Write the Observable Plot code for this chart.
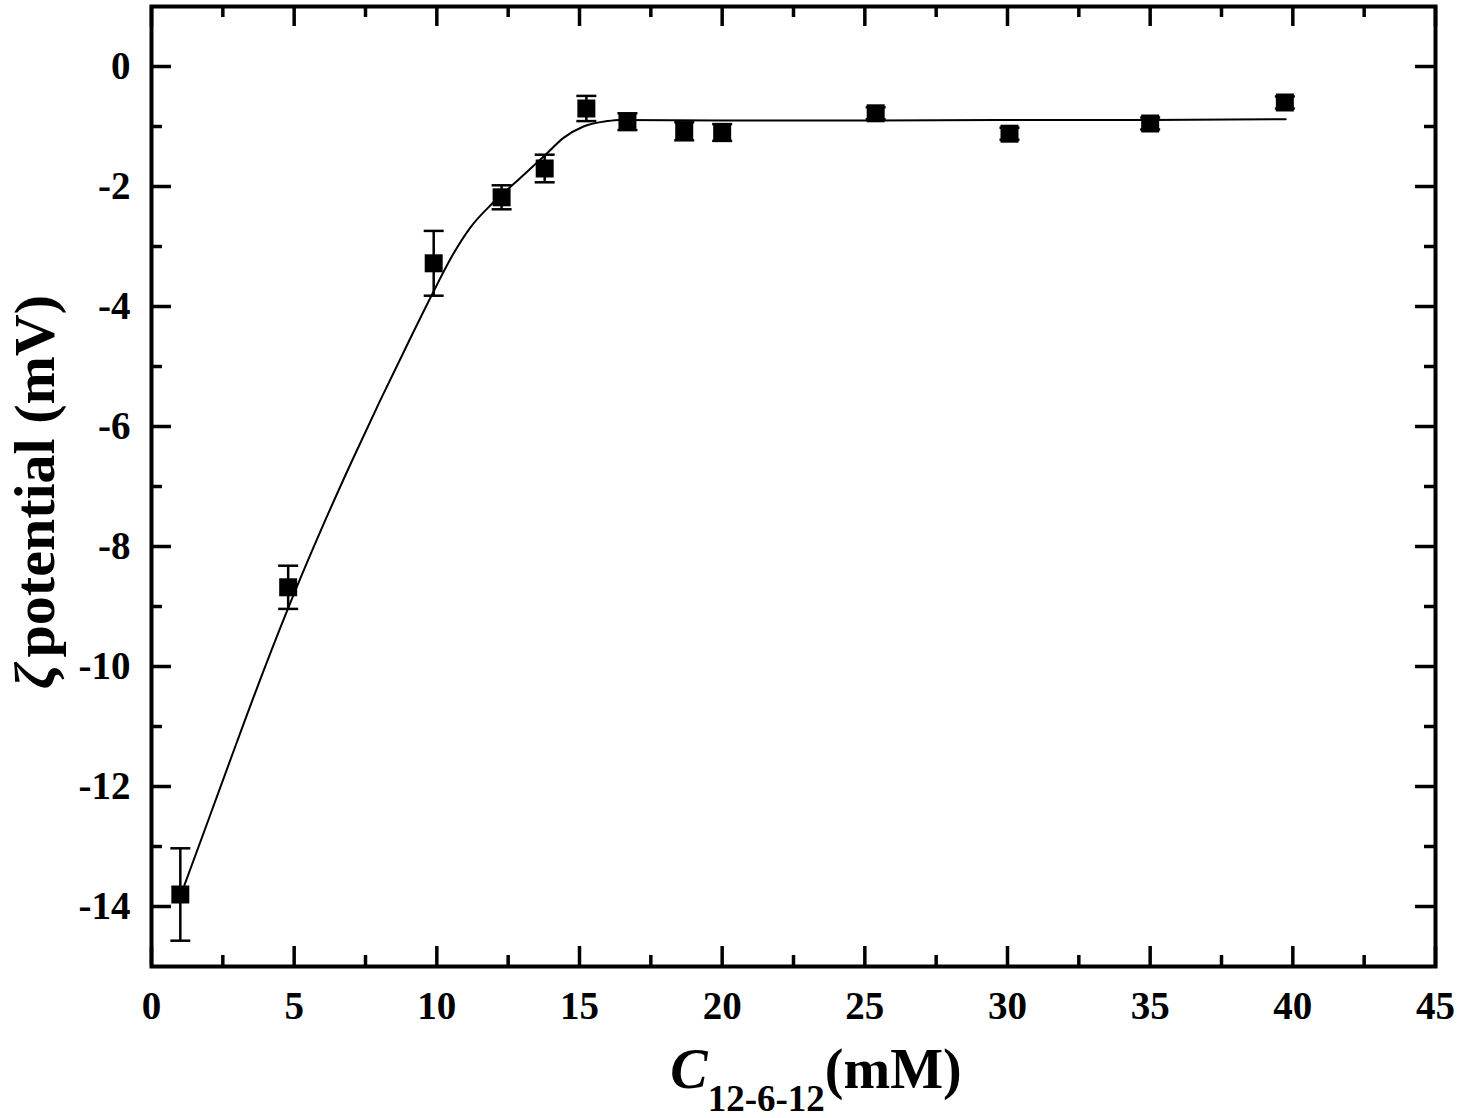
<!DOCTYPE html>
<html><head><meta charset="utf-8">
<script src="https://cdn.jsdelivr.net/npm/d3@7"></script>
<script src="https://cdn.jsdelivr.net/npm/@observablehq/plot@0.6"></script>
<style>body{margin:0;background:#fff} svg{display:block}</style>
</head><body><div id="chart"></div>
<script>
// Measured data
const concentration = [1.01, 4.79, 9.89, 12.27, 13.78, 15.24, 16.68, 18.67, 20.0, 25.38, 30.07, 35.0, 39.72];
const zeta          = [-13.8, -8.68, -3.28, -2.18, -1.70, -0.70, -0.92, -1.08, -1.10, -0.78, -1.12, -0.95, -0.60];
const zetaErr       = [0.77, 0.36, 0.54, 0.20, 0.23, 0.21, 0.14, 0.15, 0.14, 0.10, 0.10, 0.10, 0.10];
// Fitted curve
const fitX = [1.15, 2.0, 3.0, 4.0, 5.0, 6.0, 7.0, 8.0, 9.0, 9.81, 10.58, 11.18, 11.95, 12.83, 13.81, 14.44, 15.14, 15.97, 16.4, 20, 25, 30, 35, 39.75];
const fitY = [-13.65, -12.55, -11.25, -9.98, -8.78, -7.66, -6.60, -5.58, -4.60, -3.82, -3.12, -2.68, -2.28, -1.90, -1.47, -1.19, -1.00, -0.91, -0.89, -0.90, -0.90, -0.89, -0.89, -0.88];
// Ticks
const xTicks = [0, 5, 10, 15, 20, 25, 30, 35, 40, 45];
const xMinorTicks = [2.5, 7.5, 12.5, 17.5, 22.5, 27.5, 32.5, 37.5, 42.5];
const yTicks = [0, -2, -4, -6, -8, -10, -12, -14];
const yMinorTicks = [-1, -3, -5, -7, -9, -11, -13];

const points = concentration.map((c, i) => ({x: c, y: zeta[i], lo: zeta[i] - zetaErr[i], hi: zeta[i] + zetaErr[i]}));
const fit = fitX.map((x, i) => ({x, y: fitY[i]}));

const W = 1461, H = 1118, mL = 151, mR = 26, mT = 6, mB = 152;
const fh = H - mT - mB, fw = W - mL - mR;
const majorLen = 20, minorLen = 11;
const tk = {stroke: "black", strokeWidth: 3.5};
const font = "'Liberation Serif', 'Times New Roman', serif";

const capSymbol = {
  draw(context, size) {
    const w = Math.sqrt(size / Math.PI);
    context.moveTo(-w, 0);
    context.lineTo(w, 0);
  }
};

const chart = Plot.plot({
  width: W, height: H,
  marginLeft: mL, marginRight: mR, marginTop: mT, marginBottom: mB,
  x: {domain: [0, 45]},
  y: {domain: [-15, 1]},
  style: {fontFamily: font, background: "white", color: "black"},
  marks: [
    Plot.axisX({ticks: xTicks, tickSize: 0, tickPadding: 25, tickFormat: d => String(d), fontSize: 39, fontWeight: "bold", label: null}),
    Plot.axisY({ticks: yTicks, tickSize: 0, tickPadding: 21, tickFormat: d => String(d), fontSize: 39, fontWeight: "bold", label: null}),
    // inward ticks on all four sides
    Plot.tickX(xTicks, {x: d => d, insetTop: fh - majorLen, ...tk}),
    Plot.tickX(xMinorTicks, {x: d => d, insetTop: fh - minorLen, ...tk}),
    Plot.tickX(xTicks, {x: d => d, insetBottom: fh - majorLen, ...tk}),
    Plot.tickX(xMinorTicks, {x: d => d, insetBottom: fh - minorLen, ...tk}),
    Plot.tickY(yTicks, {y: d => d, insetRight: fw - majorLen, ...tk}),
    Plot.tickY(yMinorTicks, {y: d => d, insetRight: fw - minorLen, ...tk}),
    Plot.tickY(yTicks, {y: d => d, insetLeft: fw - majorLen, ...tk}),
    Plot.tickY(yMinorTicks, {y: d => d, insetLeft: fw - minorLen, ...tk}),
    // fitted curve
    Plot.line(fit, {x: "x", y: "y", stroke: "black", strokeWidth: 2, curve: "monotone-x"}),
    // error bars
    Plot.ruleX(points, {x: "x", y1: "lo", y2: "hi", stroke: "black", strokeWidth: 2.5}),
    Plot.dot(points, {x: "x", y: "lo", symbol: capSymbol, r: 10, fill: "none", stroke: "black", strokeWidth: 2.5}),
    Plot.dot(points, {x: "x", y: "hi", symbol: capSymbol, r: 10, fill: "none", stroke: "black", strokeWidth: 2.5}),
    // markers
    Plot.dot(points, {x: "x", y: "y", symbol: "square", r: 10.15, fill: "black", stroke: "none"}),
    Plot.frame({stroke: "black", strokeWidth: 4})
  ]
});

const svg = d3.select(chart);
// x axis title
const xt = svg.append("text")
  .attr("x", 816).attr("y", 1088)
  .attr("text-anchor", "middle")
  .attr("font-family", font).attr("font-weight", "bold").attr("font-size", 56)
  .attr("fill", "black");
xt.append("tspan").attr("font-style", "italic").text("C");
xt.append("tspan").attr("font-size", 37).attr("dy", 23).text("12-6-12");
xt.append("tspan").attr("font-size", 56).attr("dy", -23).text("(mM)");
// y axis title
const yt = svg.append("text")
  .attr("transform", "translate(54,492) rotate(-90)")
  .attr("text-anchor", "middle")
  .attr("font-family", font).attr("font-weight", "bold").attr("font-size", 58)
  .attr("fill", "black");
yt.append("tspan").attr("font-style", "italic").attr("font-size", 58).text("ζ");
yt.append("tspan").attr("dx", 6).text("potential (mV)");

document.getElementById("chart").appendChild(chart);
</script>
</body></html>
